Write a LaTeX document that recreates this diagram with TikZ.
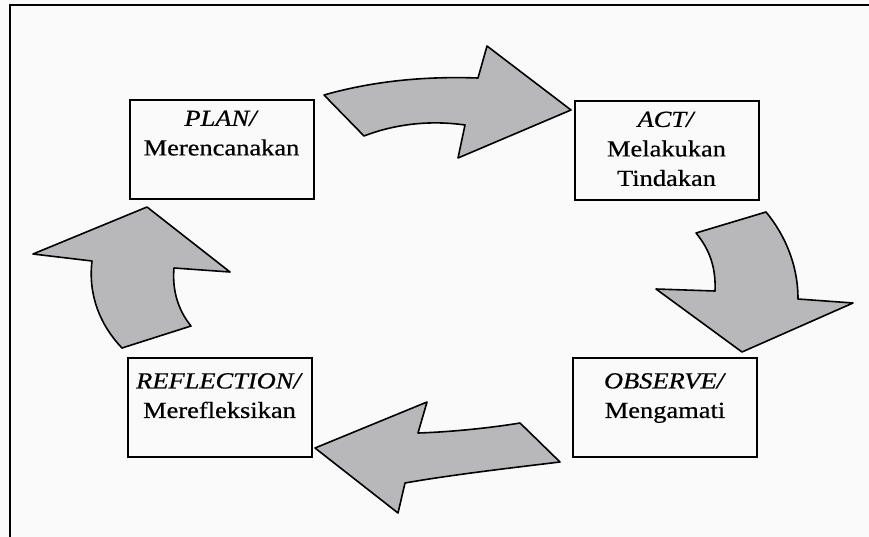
\documentclass[tikz,border=0pt]{standalone}
\usepackage{fontspec}
\setmainfont{Liberation Serif}[FakeStretch=1.15,FakeBold=0.6]
\usetikzlibrary{positioning}
\definecolor{flechegris}{RGB}{184,184,186}
\definecolor{fond}{RGB}{250,250,250}

\begin{document}
\begin{tikzpicture}[x=1pt,y=-1pt,
  boite/.style={draw, line width=2pt, minimum width=184pt, minimum height=99pt, inner sep=0pt},
  texte/.style={align=center, inner sep=0pt, font=\fontsize{23}{29.5}\selectfont},
  fleche/.style={draw, line width=1.6pt, fill=flechegris, line join=round}]

\fill[fond] (0,0) rectangle (869,537);
\useasboundingbox (0,0) rectangle (869,537);

% Cadre
\draw[line width=2pt] (869,5) -- (10,5) -- (10,537);

% Noeuds
\node[boite] (plan) at (221.5,150) {};
\node[boite] (act) at (666.5,151) {};
\node[boite] (observe) at (665,407.5) {};
\node[boite] (reflection) at (219.5,407.5) {};

\node[texte, below=11pt of plan.north] (plantxt) {\textit{PLAN/}\\Merencanakan};
\node[texte, below=11pt of act.north] (acttxt) {\textit{ACT/}\\Melakukan\\Tindakan};
\node[texte, below=16pt of observe.north] (observetxt) {\textit{OBSERVE/}\\Mengamati};
\node[texte, below=16pt of reflection.north] (reflectiontxt) {\textit{REFLECTION/}\\Merefleksikan};

% Flèches
\draw[fleche] (324,95) .. controls (370,82) and (420,76) .. (478,78)
  -- (487,46) -- (571,110) -- (458,158) -- (465,125)
  .. controls (430,120) and (395,124) .. (364,136) -- cycle;
\draw[fleche] (696,233) -- (766,212) .. controls (785,235) and (798,265) .. (798,299)
  -- (853,303) -- (742,352) -- (656,289) -- (715,291)
  .. controls (716,268) and (710,250) .. (696,233) -- cycle;
\draw[fleche] (315,448) -- (427,402) -- (418,433)
  .. controls (450,432) and (490,428) .. (520,423)
  -- (560,462) .. controls (510,468) and (450,475) .. (405,483)
  -- (398,513) -- cycle;
\draw[fleche] (33,254) -- (147,207) -- (230,272) -- (174,268)
  .. controls (172,290) and (178,310) .. (191,326)
  -- (122,348) .. controls (100,325) and (88,295) .. (92,261) -- cycle;

\end{tikzpicture}
\end{document}
